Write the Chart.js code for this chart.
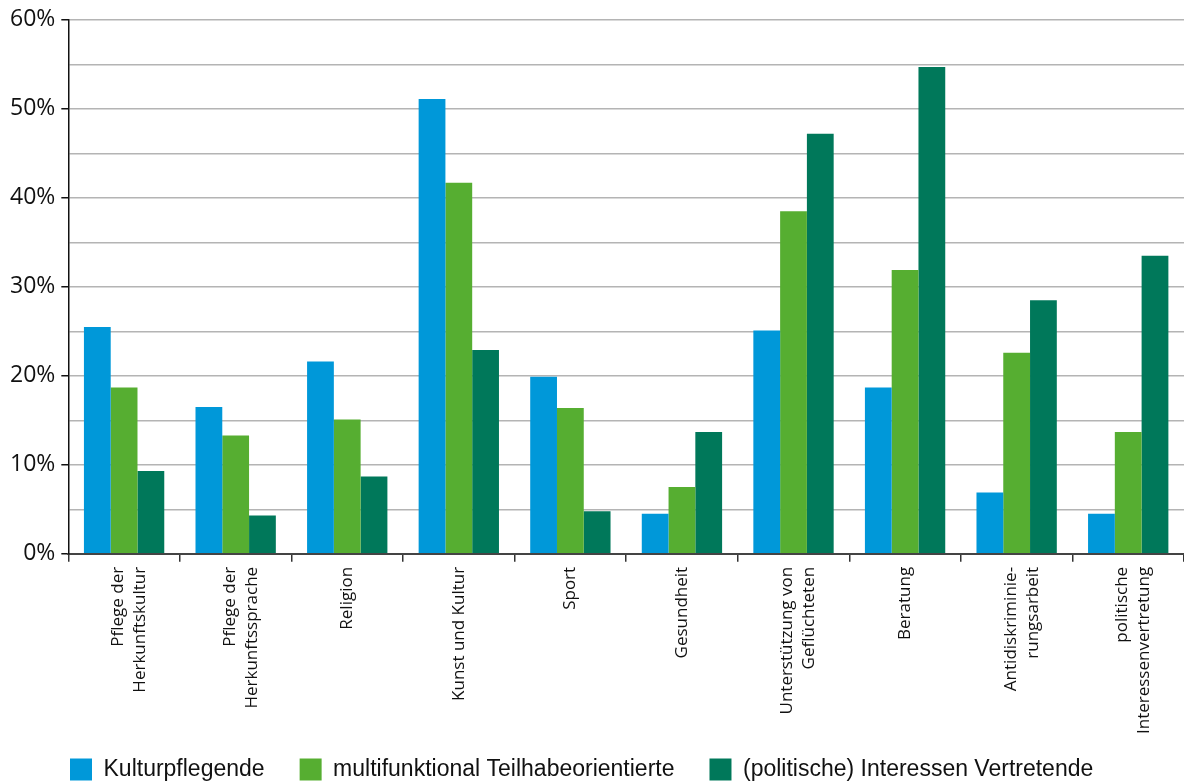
<!DOCTYPE html>
<html>
<head>
<meta charset="utf-8">
<script src="https://cdn.jsdelivr.net/npm/chart.js@4"></script>
<style>
html, body { margin: 0; padding: 0; background: #fff; }
</style>
</head>
<body>
<canvas id="MyChart" width="1184" height="784"></canvas>
<script>
const categories = [
    ['Pflege der', 'Herkunftskultur'],
    ['Pflege der', 'Herkunftssprache'],
    'Religion',
    'Kunst und Kultur',
    'Sport',
    'Gesundheit',
    ['Unterstützung von', 'Geflüchteten'],
    'Beratung',
    ['Antidiskriminie-', 'rungsarbeit'],
    ['politische', 'Interessenvertretung']
];
const seriesNames = ['Kulturpflegende', 'multifunktional Teilhabeorientierte', '(politische) Interessen Vertretende'];
const kulturpflegende = [25.5, 16.5, 21.6, 51.1, 19.9, 4.5, 25.1, 18.7, 6.9, 4.5];
const teilhabe = [18.7, 13.3, 15.1, 41.7, 16.4, 7.5, 38.5, 31.9, 22.6, 13.7];
const interessen = [9.3, 4.3, 8.7, 22.9, 4.8, 13.7, 47.2, 54.7, 28.5, 33.5];
const yMax = 60;
const yStep = 5;

// puts the legend where the original has it (left aligned, bottom row)
const legendPlace = {
    id: 'legendPlace',
    beforeLayout(chart) {
        const lg = chart.legend;
        if (lg && !lg.patched) {
            const fit = lg.fit;
            lg.fit = function () { fit.call(this); this.height = 45; };
            lg.patched = true;
        }
    },
    afterLayout(chart) {
        chart.legend.left = 35;
        chart.legend.top = 723;
    },
    // centre two-line category labels on their tick like the original
    beforeDraw(chart) {
        const items = chart.scales.x.getLabelItems();
        if (items.centred) return;
        items.forEach(it => {
            if (Array.isArray(it.label)) {
                it.options.translation[0] -= (it.label.length - 1) * it.font.lineHeight * 0.27;
            }
        });
        items.centred = true;
    }
};

const ctx = document.getElementById('MyChart').getContext('2d');
const myChart = new Chart(ctx, {
    type: 'bar',
    data: {
        labels: categories,
        datasets: [
            { label: seriesNames[0], data: kulturpflegende, backgroundColor: '#0098d9' },
            { label: seriesNames[1], data: teilhabe, backgroundColor: '#56ae31' },
            { label: seriesNames[2], data: interessen, backgroundColor: '#00785a' }
        ]
    },
    options: {
        responsive: false,
        animation: false,
        layout: { padding: { left: 4, top: 6, right: 0, bottom: 0 } },
        datasets: { bar: { categoryPercentage: 0.72, barPercentage: 1, borderWidth: 0 } },
        plugins: {
            tooltip: { enabled: false },
            legend: {
                position: 'bottom',
                align: 'start',
                labels: {
                    boxWidth: 22,
                    boxHeight: 22,
                    padding: 35,
                    color: '#111',
                    font: { family: '"Liberation Sans", Arial, sans-serif', size: 23 }
                }
            }
        },
        scales: {
            x: {
                grid: { drawOnChartArea: false, tickLength: 8, color: '#333', lineWidth: 1.5 },
                border: { color: '#444', width: 2 },
                ticks: {
                    minRotation: 90,
                    maxRotation: 90,
                    padding: 5,
                    color: '#111',
                    font: { family: '"Open Sans", sans-serif', size: 17, lineHeight: 1.3 }
                }
            },
            y: {
                min: 0,
                max: yMax,
                grid: {
                    tickLength: 7,
                    lineWidth: 1.5,
                    color: c => c.tick.value === 0 ? 'transparent' : '#b4b4b4',
                    tickColor: c => c.tick.value % 10 === 0 ? '#111' : 'transparent'
                },
                border: { color: '#111', width: 1.5 },
                ticks: {
                    stepSize: yStep,
                    padding: 6,
                    color: '#111',
                    font: { family: '"Open Sans", sans-serif', size: 23 },
                    callback: v => v % 10 === 0 ? v + '%' : ''
                }
            }
        }
    },
    plugins: [legendPlace]
});
</script>
</body>
</html>
